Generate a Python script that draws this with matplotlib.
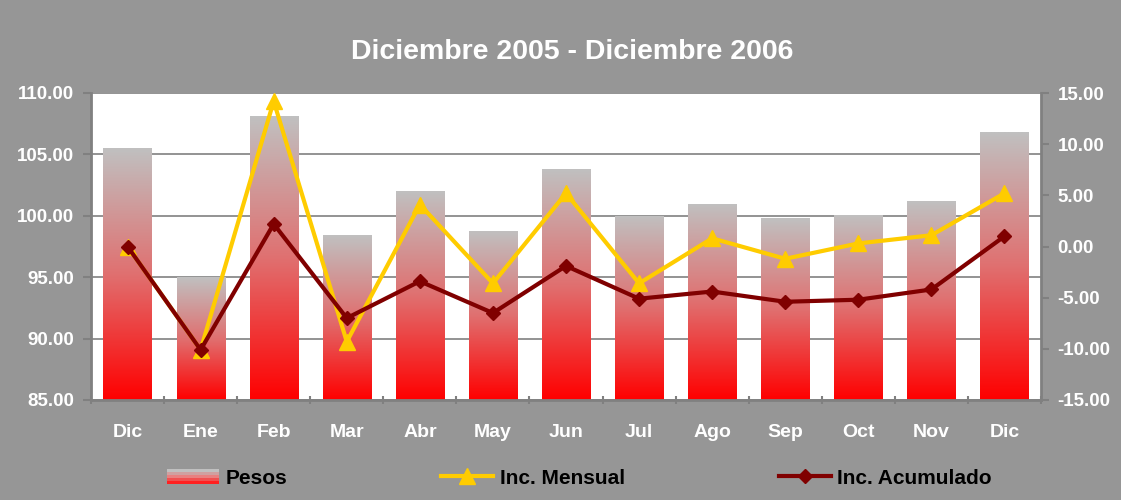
import matplotlib
matplotlib.use("Agg")
import matplotlib.pyplot as plt
import numpy as np
from matplotlib.colors import LinearSegmentedColormap
from matplotlib.legend_handler import HandlerBase
from matplotlib.patches import Rectangle
from matplotlib.lines import Line2D

plt.rcParams["font.family"] = ["Liberation Sans", "DejaVu Sans"]
plt.rcParams["font.weight"] = "bold"

# datos
meses = ["Dic", "Ene", "Feb", "Mar", "Abr", "May", "Jun", "Jul", "Ago", "Sep", "Oct", "Nov", "Dic"]
pesos = [105.5, 95.0, 108.1, 98.4, 102.0, 98.8, 103.8, 100.0, 101.0, 99.8, 100.1, 101.2, 106.8]
inc_mensual = [0.0, -10.1, 14.2, -9.3, 4.1, -3.6, 5.2, -3.6, 0.8, -1.2, 0.3, 1.1, 5.2]
inc_acumulado = [0.0, -10.1, 2.2, -7.0, -3.4, -6.5, -1.9, -5.1, -4.4, -5.4, -5.2, -4.2, 1.0]

BG = "#969696"
AXIS = "#808080"
grad = LinearSegmentedColormap.from_list("pesos", ["#ff0000", "#e07070", "#c0c0c0"])

fig = plt.figure(figsize=(11.21, 5.0), dpi=100, facecolor=BG)
ax = fig.add_axes([91 / 1121, 1 - 400 / 500, 950 / 1121, 307 / 500])
ax.set_facecolor("white")
x = np.arange(len(meses))

bars = ax.bar(x, pesos, width=0.66, color="none", zorder=2)
g = np.linspace(0, 1, 256).reshape(-1, 1)
for b in bars:
    x0, y0 = b.get_x(), 85
    im = ax.imshow(g, cmap=grad, aspect="auto", origin="lower",
                   extent=(x0, x0 + b.get_width(), y0, b.get_height()), zorder=2)
    im.set_clip_path(b)

ax.set_xlim(-0.5, len(meses) - 0.5)
ax.set_ylim(85, 110)
ax.set_yticks(np.arange(85, 111, 5))
ax.set_yticklabels(["85.00", "90.00", "95.00", "100.00", "105.00", "110.00"])
ax.yaxis.grid(True, color=AXIS, lw=1.2, zorder=1)
ax.set_axisbelow(True)
ax.set_xticks(x)
ax.set_xticklabels(meses)
ax.set_xticks(np.arange(-0.5, len(meses), 1), minor=True)
ax.tick_params(axis="x", which="major", length=0, pad=17, labelsize=14, labelcolor="white")
ax.tick_params(axis="x", which="minor", length=6, direction="inout", color=AXIS, width=1.5)
ax.tick_params(axis="y", length=6, color=AXIS, width=1.5, labelsize=13.5, labelcolor="white", pad=6)
for s in ["top", "right"]:
    ax.spines[s].set_visible(False)
for s in ["left", "bottom"]:
    ax.spines[s].set_color(AXIS)
    ax.spines[s].set_linewidth(2)

ax2 = ax.twinx()
ax2.set_ylim(-15, 15)
ax2.set_yticks(np.arange(-15, 16, 5))
ax2.set_yticklabels([f"{v:.2f}" for v in np.arange(-15, 16, 5)])
ax2.tick_params(axis="y", length=6, color=AXIS, width=1.5, labelsize=13.5, labelcolor="white", pad=6)
for s in ["top", "left", "bottom"]:
    ax2.spines[s].set_visible(False)
ax2.spines["right"].set_color(AXIS)
ax2.spines["right"].set_linewidth(2)

ax2.plot(x, inc_mensual, color="#ffcc00", lw=3, marker="^", ms=12, zorder=3)
ax2.plot(x, inc_acumulado, color="#800000", lw=3, marker="D", ms=7.5, zorder=4)

fig.text(0.51, 1 - 52 / 500, "Diciembre 2005 - Diciembre 2006", ha="center", va="center",
         color="white", fontsize=20.5, fontweight="bold")


class GradHandler(HandlerBase):
    def create_artists(self, legend, orig, xd, yd, w, h, fontsize, trans):
        cols = ["#c0c0c0", "#d0a0a0", "#e88080", "#f05050", "#ff2020"]
        n = len(cols)
        return [Rectangle((xd, yd + h * (n - 1 - i) / n), w, h / n, facecolor=c,
                          edgecolor="none", transform=trans) for i, c in enumerate(cols)]


handles = [Rectangle((0, 0), 1, 1),
           Line2D([], [], color="#ffcc00", lw=3, marker="^", ms=12),
           Line2D([], [], color="#800000", lw=3, marker="D", ms=7.5)]
fig.legend(handles, ["Pesos", "Inc. Mensual", "Inc. Acumulado"],
           handler_map={Rectangle: GradHandler()}, loc="center", ncol=3,
           bbox_to_anchor=(0.517, 1 - 478 / 500), frameon=False, fontsize=15,
           handlelength=2.5, columnspacing=7.4, handletextpad=0.3)

fig.savefig("out.png", dpi=100, facecolor=BG)
